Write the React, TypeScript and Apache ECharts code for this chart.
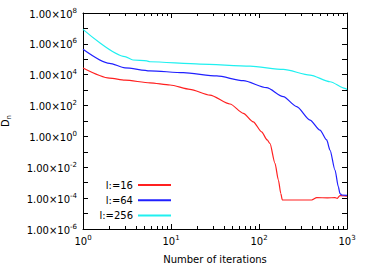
import React, { useEffect, useRef } from "react";
import * as echarts from "echarts";

const FONT = "DejaVu Sans";

const seriesNames = ["l:=16", "l:=64", "l:=256"];
const seriesColors = ["#ff2020", "#2020ff", "#20f0f0"];

const redX = [1, 2, 3, 5.77, 9.75, 16.4, 27.7, 46.8, 66.3, 86.1, 107, 124, 133, 152, 166, 177, 184, 397, 453, 600, 731, 776, 832, 1000];
const redY = [2.7e4, 6e3, 4.4e3, 3.0e3, 2.15e3, 1.13e3, 480, 126, 31.6, 8.9, 2.0, 0.59, 0.35, 0.018, 1.5e-3, 2.0e-4, 7.6e-5, 7.6e-5, 1.07e-4, 1.05e-4, 1.07e-4, 9.8e-5, 1.45e-4, 1.35e-4];

const blueX = [1, 2, 3, 5.77, 13.8, 33.1, 66.3, 122, 189, 268, 380, 493, 588, 641, 731, 797, 832, 871, 1000];
const blueY = [4.5e5, 5.5e4, 2.8e4, 1.8e4, 1.35e4, 8.3e3, 4.1e3, 1.44e3, 375, 85, 11.5, 2.6, 0.59, 0.13, 6.6e-3, 5.5e-4, 2.0e-4, 1.6e-4, 1.5e-4];

const cyanX = [1, 3, 3.7, 5.3, 5.77, 21.3, 79, 189, 380, 641, 948, 1000];
const cyanY = [8.7e6, 1.5e5, 9e4, 7.8e4, 6.9e4, 4.9e4, 3.6e4, 2.2e4, 9.5e3, 3.5e3, 1.3e3, 1.1e3];

const xMajorTicks = [1, 10, 100, 1000];
const xMinorTicks = [2, 3, 4, 5, 6, 7, 8, 9, 20, 30, 40, 50, 60, 70, 80, 90, 200, 300, 400, 500, 600, 700, 800, 900];
const yTicks = [1e-6, 1e-5, 1e-4, 1e-3, 1e-2, 1e-1, 1, 1e1, 1e2, 1e3, 1e4, 1e5, 1e6, 1e7, 1e8];
const yLabels = [1e-6, 1e-4, 1e-2, 1, 1e2, 1e4, 1e6, 1e8];

const exp = (v: number) => Math.round(Math.log10(v));

const rich = {
  a: { fontSize: 10, fontFamily: FONT, color: "#000", verticalAlign: "bottom" },
  b: { fontSize: 7, fontFamily: FONT, color: "#000", verticalAlign: "bottom", padding: [0, 0, 5, 0] },
};

const toPairs = (xs: number[], ys: number[]) => xs.map((x, i) => [x, ys[i]]);

export default function App() {
  const ref = useRef<HTMLDivElement>(null);
  useEffect(() => {
    const chart = echarts.init(ref.current!, null, { renderer: "svg" });
    const xBase = {
      type: "log",
      logBase: 10,
      min: 1,
      max: 1000,
      splitLine: { show: false },
    };
    const yBase = {
      type: "log",
      logBase: 10,
      min: 1e-6,
      max: 1e8,
      splitLine: { show: false },
    };
    const lineBlack = { show: true, lineStyle: { color: "#000", width: 1 } };
    const option: any = {
      animation: false,
      grid: { left: 83, top: 13, width: 264, height: 216, outerBoundsMode: "none", containLabel: false },
      xAxis: [
        {
          ...xBase,
          position: "bottom",
          axisLine: lineBlack,
          axisTick: { inside: true, length: 5, lineStyle: { color: "#000" }, customValues: xMajorTicks },
          axisLabel: {
            customValues: xMajorTicks,
            margin: 5,
            formatter: (v: number) => `{a|10}{b|${exp(v)}}`,
            rich,
          },
          name: "Number of iterations",
          nameLocation: "middle",
          nameGap: 25,
          nameTextStyle: { fontSize: 10, fontFamily: FONT, color: "#000" },
        },
        {
          ...xBase,
          position: "bottom",
          axisLine: { show: false },
          axisTick: { inside: true, length: 3, lineStyle: { color: "#000" }, customValues: xMinorTicks },
          axisLabel: { show: false },
        },
        {
          ...xBase,
          position: "top",
          axisLine: lineBlack,
          axisTick: { inside: true, length: 5, lineStyle: { color: "#000" }, customValues: xMajorTicks },
          axisLabel: { show: false },
        },
        {
          ...xBase,
          position: "top",
          axisLine: { show: false },
          axisTick: { inside: true, length: 3, lineStyle: { color: "#000" }, customValues: xMinorTicks },
          axisLabel: { show: false },
        },
      ],
      yAxis: [
        {
          ...yBase,
          position: "left",
          axisLine: lineBlack,
          axisTick: { inside: true, length: 5, lineStyle: { color: "#000" }, customValues: yTicks },
          axisLabel: {
            customValues: yLabels,
            margin: 6,
            formatter: (v: number) => `{a|1.00×10}{b|${exp(v)}}`,
            rich,
          },
          name: "{d|D}{n|n}",
          nameLocation: "middle",
          nameRotate: 90,
          nameGap: 71,
          nameTextStyle: {
            rich: {
              d: { fontSize: 10, fontFamily: FONT, color: "#000", verticalAlign: "top" },
              n: { fontSize: 7, fontFamily: FONT, color: "#000", verticalAlign: "top", padding: [5, 0, 0, 0] },
            },
          },
        },
        {
          ...yBase,
          position: "right",
          axisLine: lineBlack,
          axisTick: { inside: true, length: 5, lineStyle: { color: "#000" }, customValues: yTicks },
          axisLabel: { show: false },
        },
      ],
      legend: seriesNames.map((name, i) => ({
        data: [name],
        right: 211,
        top: 180 + i * 15.2,
        orient: "horizontal",
        align: "right",
        icon: "rect",
        itemWidth: 33,
        itemHeight: 2,
        padding: 0,
        selectedMode: false,
        textStyle: { fontSize: 10, fontFamily: FONT, color: "#000" },
      })),
      series: [
        { data: toPairs(redX, redY) },
        { data: toPairs(blueX, blueY) },
        { data: toPairs(cyanX, cyanY) },
      ].map((s, i) => ({
        type: "line",
        name: seriesNames[i],
        data: s.data,
        xAxisIndex: 0,
        yAxisIndex: 0,
        showSymbol: false,
        symbol: "none",
        smooth: 0.25,
        smoothMonotone: "x",
        color: seriesColors[i],
        lineStyle: { color: seriesColors[i], width: 1.2 },
      })),
    };
    chart.setOption(option);
    return () => chart.dispose();
  }, []);
  return <div ref={ref} style={{ width: 382, height: 266, position: "absolute", left: 0, top: 0 }} />;
}
